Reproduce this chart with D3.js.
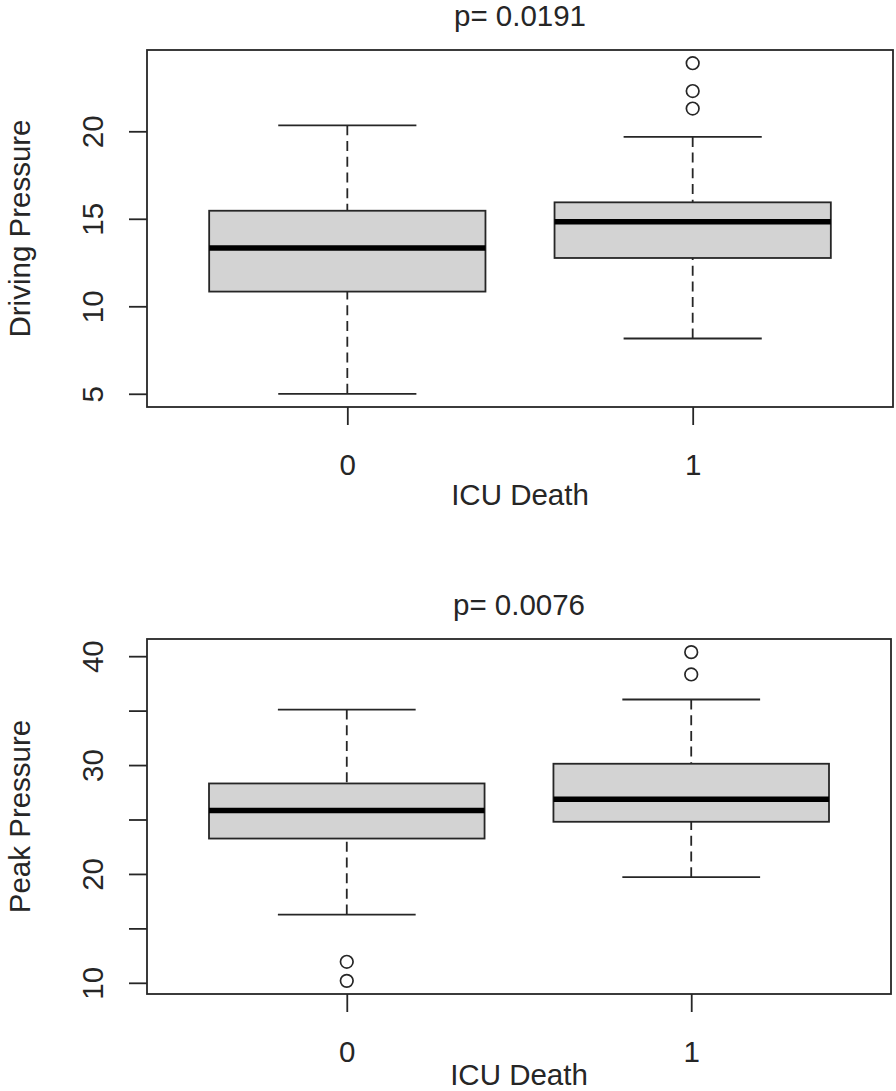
<!DOCTYPE html>
<html>
<head>
<meta charset="utf-8">
<script src="https://cdn.jsdelivr.net/npm/d3@7"></script>
<style>
  html, body { margin: 0; padding: 0; background: #fff; }
  svg { display: block; }
  text { font-family: "Liberation Sans", Arial, sans-serif; fill: #262626; }
</style>
</head>
<body>
<svg id="chart" width="896" height="1091"></svg>
<script>
// ---------- data ----------
const categories = ["0", "1"];

// [lower whisker, Q1, median, Q3, upper whisker]
const drivingBox0 = [5.0, 10.84, 13.33, 15.46, 20.34];
const drivingBox1 = [8.16, 12.76, 14.83, 15.94, 19.68];
const drivingOutliers0 = [];
const drivingOutliers1 = [21.3, 22.3, 23.89];
const drivingTicks = [5, 10, 15, 20];
const drivingTickLabels = [5, 10, 15, 20];
const drivingTitle = "p= 0.0191";
const drivingYLabel = "Driving Pressure";

const peakBox0 = [16.27, 23.25, 25.83, 28.31, 35.1];
const peakBox1 = [19.7, 24.79, 26.87, 30.12, 36.02];
const peakOutliers0 = [10.18, 11.93];
const peakOutliers1 = [38.32, 40.37];
const peakTicks = [10, 15, 20, 25, 30, 35, 40];
const peakTickLabels = [10, 20, 30, 40];
const peakTitle = "p= 0.0076";
const peakYLabel = "Peak Pressure";

const xLabel = "ICU Death";

// ---------- drawing ----------
const svg = d3.select("#chart");
const INK = "#262626";

function drawPanel(opts) {
  const { top, bottom, left, right, boxes, outliers, ticks, tickLabels, title, yLabel } = opts;
  const g = svg.append("g");

  const allVals = boxes.flat().concat(outliers.flat());
  const lo = d3.min(allVals), hi = d3.max(allVals);
  const pad = (hi - lo) * 0.04;
  const y = d3.scaleLinear().domain([lo - pad, hi + pad]).range([bottom, top]);
  const x = d3.scalePoint().domain(categories).range([left, right]).padding(0.58);
  const bw = x.step() * 0.8;

  categories.forEach((c, i) => {
    const s = boxes[i];
    const cx = x(c);
    // whiskers (dashed), drawn from whisker end toward the hinge
    g.append("line").attr("x1", cx).attr("x2", cx).attr("y1", y(s[0])).attr("y2", y(s[1]))
      .attr("stroke", INK).attr("stroke-width", 1.8).attr("stroke-dasharray", "10,5.7");
    g.append("line").attr("x1", cx).attr("x2", cx).attr("y1", y(s[4])).attr("y2", y(s[3]))
      .attr("stroke", INK).attr("stroke-width", 1.8).attr("stroke-dasharray", "10,5.7");
    // caps
    [s[0], s[4]].forEach(v => {
      g.append("line").attr("x1", cx - bw / 4).attr("x2", cx + bw / 4)
        .attr("y1", y(v)).attr("y2", y(v)).attr("stroke", INK).attr("stroke-width", 1.8);
    });
    // box
    g.append("rect").attr("x", cx - bw / 2).attr("width", bw)
      .attr("y", y(s[3])).attr("height", y(s[1]) - y(s[3]))
      .attr("fill", "#d3d3d3").attr("stroke", INK).attr("stroke-width", 1.8);
    // median
    g.append("line").attr("x1", cx - bw / 2).attr("x2", cx + bw / 2)
      .attr("y1", y(s[2])).attr("y2", y(s[2])).attr("stroke", "#000").attr("stroke-width", 5.5);
    // outliers
    g.selectAll(null).data(outliers[i]).enter().append("circle")
      .attr("cx", cx).attr("cy", d => y(d)).attr("r", 6.3)
      .attr("fill", "none").attr("stroke", INK).attr("stroke-width", 1.7);
  });

  // frame
  g.append("rect").attr("x", left).attr("y", top).attr("width", right - left).attr("height", bottom - top)
    .attr("fill", "none").attr("stroke", INK).attr("stroke-width", 1.8);

  // y axis
  const yAxis = g.append("g").attr("transform", `translate(${left},0)`)
    .call(d3.axisLeft(y).tickValues(ticks).tickSize(18).tickSizeOuter(0)
      .tickFormat(d => tickLabels.includes(d) ? String(d) : ""));
  yAxis.select(".domain").remove();
  yAxis.selectAll(".tick line").attr("stroke", INK).attr("stroke-width", 1.8);
  yAxis.selectAll(".tick text")
    .attr("x", null).attr("dy", null)
    .attr("transform", "translate(-44,0) rotate(-90)")
    .attr("text-anchor", "middle")
    .attr("font-size", 29.5).attr("fill", INK)
    .style("font-family", "'Liberation Sans', Arial, sans-serif");

  // x axis
  const xAxis = g.append("g").attr("transform", `translate(0,${bottom})`)
    .call(d3.axisBottom(x).tickSize(18).tickSizeOuter(0));
  xAxis.select(".domain").remove();
  xAxis.selectAll(".tick line").attr("stroke", INK).attr("stroke-width", 1.8);
  xAxis.selectAll(".tick text")
    .attr("y", 68).attr("dy", null)
    .attr("font-size", 29.5).attr("fill", INK)
    .style("font-family", "'Liberation Sans', Arial, sans-serif");

  const cxMid = (left + right) / 2;
  g.append("text").attr("x", cxMid).attr("y", top - 24).attr("text-anchor", "middle")
    .attr("font-size", 29.5).text(title);
  g.append("text").attr("x", cxMid).attr("y", bottom + opts.xLabelOffset).attr("text-anchor", "middle")
    .attr("font-size", 29.5).text(xLabel);
  g.append("text").attr("transform", `translate(30,${(top + bottom) / 2}) rotate(-90)`)
    .attr("text-anchor", "middle").attr("font-size", 29.5).text(yLabel);
}

drawPanel({
  top: 50, bottom: 407, left: 147, right: 893,
  boxes: [drivingBox0, drivingBox1],
  outliers: [drivingOutliers0, drivingOutliers1],
  ticks: drivingTicks, tickLabels: drivingTickLabels,
  title: drivingTitle, yLabel: drivingYLabel, xLabelOffset: 98
});

drawPanel({
  top: 639, bottom: 994, left: 147, right: 891,
  boxes: [peakBox0, peakBox1],
  outliers: [peakOutliers0, peakOutliers1],
  ticks: peakTicks, tickLabels: peakTickLabels,
  title: peakTitle, yLabel: peakYLabel, xLabelOffset: 91
});
</script>
</body>
</html>
